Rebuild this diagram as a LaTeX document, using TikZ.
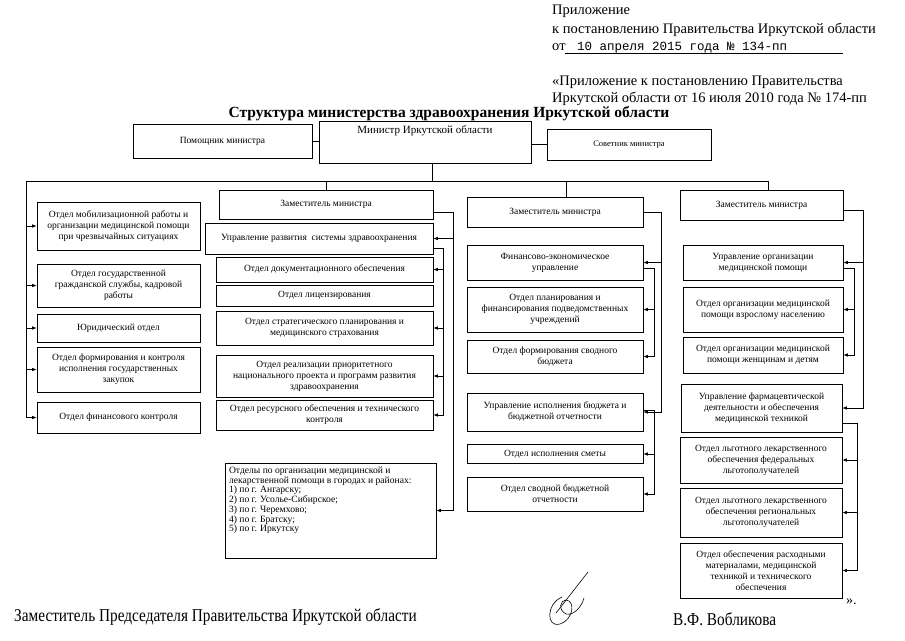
\documentclass[tikz,border=0pt]{standalone}
\usepackage{fontspec}
\setmainfont{Liberation Serif}
\newfontfamily\monofont{Liberation Mono}
\newfontfamily\condfont[FakeStretch=0.85]{Liberation Serif}
\usetikzlibrary{arrows.meta}
\tikzset{
  unitbox/.style={draw, line width=0.6pt, align=center, inner sep=2pt, font=\fontsize{9.5}{11}\selectfont},
  link/.style={line width=0.6pt},
  feed/.style={link, -{Latex[length=4.5pt,width=3.5pt]}},
  plain/.style={inner sep=0pt, anchor=base west, font=\fontsize{14.5}{17}\selectfont}
}
\begin{document}
\begin{tikzpicture}[x=1pt,y=-1pt]
\useasboundingbox (0,0) rectangle (905,640);
\node[plain] (appx) at (552,14) {Приложение};
\node[plain] (decree) at (552,33) {к постановлению Правительства Иркутской области};
\node[plain] (from) at (552,50) {от};
\node[plain, font=\monofont\fontsize{12.5}{15}\selectfont] (date) at (577,50) {10 апреля 2015 года № 134-пп};
\draw[line width=0.5pt] (565,53) -- (843,53);
\node[plain] (prevA) at (552,85) {«Приложение к постановлению Правительства};
\node[plain] (prevB) at (552,102) {Иркутской области от 16 июля 2010 года № 174-пп};
\node[plain, anchor=base, font=\bfseries\fontsize{15.5}{18}\selectfont] (title) at (449,117) {Структура министерства здравоохранения Иркутской области};

\node[unitbox, minimum width=179pt, minimum height=34pt] (pom) at (222.5,141) {Помощник министра};
\node[unitbox, minimum width=212pt, minimum height=42pt, text depth=24pt, font=\fontsize{11}{13}\selectfont] (min) at (425,142) {Министр Иркутской области};
\node[unitbox, minimum width=164pt, minimum height=31pt, font=\fontsize{8.5}{10}\selectfont] (sov) at (629,144.5) {Советник министра};

\node[unitbox, minimum width=214pt, minimum height=29pt] (zamA) at (326,204.5) {Заместитель министра};
\node[unitbox, minimum width=176pt, minimum height=30pt] (zamB) at (555,212) {Заместитель министра};
\node[unitbox, minimum width=163pt, minimum height=30pt] (zamC) at (761.5,205) {Заместитель министра};

\node[unitbox, minimum width=163pt, minimum height=48pt] (lA) at (118.5,226) {Отдел мобилизационной работы и\\организации медицинской помощи\\при чрезвычайных ситуациях};
\node[unitbox, minimum width=163pt, minimum height=43pt] (lB) at (118.5,285.5) {Отдел государственной\\гражданской службы, кадровой\\работы};
\node[unitbox, minimum width=163pt, minimum height=28pt] (lC) at (118.5,328) {Юридический отдел};
\node[unitbox, minimum width=163pt, minimum height=45pt] (lD) at (118.5,369.5) {Отдел формирования и контроля\\исполнения государственных\\закупок};
\node[unitbox, minimum width=163pt, minimum height=31pt] (lE) at (118.5,417.5) {Отдел финансового контроля};

\node[unitbox, minimum width=228pt, minimum height=31pt] (uprA) at (319,238.5) {Управление развития\ \ системы здравоохранения};
\node[unitbox, minimum width=217pt, minimum height=25pt] (dA1) at (324.5,269.5) {Отдел документационного обеспечения};
\node[unitbox, minimum width=217pt, minimum height=21pt] (dA2) at (324.5,295.5) {Отдел лицензирования};
\node[unitbox, minimum width=217pt, minimum height=34pt] (dA3) at (324.5,328) {Отдел стратегического планирования и\\медицинского страхования};
\node[unitbox, minimum width=217pt, minimum height=42pt] (dA4) at (324.5,376) {Отдел реализации приоритетного\\национального проекта и программ развития\\здравоохранения};
\node[unitbox, minimum width=217pt, minimum height=30pt] (dA5) at (324.5,415) {Отдел ресурсного обеспечения и технического\\контроля};
\node[unitbox, inner sep=4pt, align=left, font=\fontsize{9.6}{8.6}\selectfont] (otd) at (330.5,510.5) {\parbox[t][87pt][t]{203pt}{Отделы по организации медицинской и\\лекарственной помощи в городах и районах:\\1) по г. Ангарску;\\2) по г. Усолье-Сибирское;\\3) по г. Черемхово;\\4) по г. Братску;\\5) по г. Иркутску}};

\node[unitbox, minimum width=176pt, minimum height=35pt] (fB1) at (555,262.5) {Финансово-экономическое\\управление};
\node[unitbox, minimum width=176pt, minimum height=45pt] (fB2) at (555,309.5) {Отдел планирования и\\финансирования подведомственных\\учреждений};
\node[unitbox, minimum width=176pt, minimum height=33pt] (fB3) at (555,356.5) {Отдел формирования сводного\\бюджета};
\node[unitbox, minimum width=176pt, minimum height=38pt] (fB4) at (555,412) {Управление исполнения бюджета и\\бюджетной отчетности};
\node[unitbox, minimum width=176pt, minimum height=19pt] (fB5) at (555,454) {Отдел исполнения сметы};
\node[unitbox, minimum width=176pt, minimum height=34pt] (fB6) at (555,494) {Отдел сводной бюджетной\\отчетности};

\node[unitbox, minimum width=160pt, minimum height=35pt] (mC1) at (763,262.5) {Управление организации\\медицинской помощи};
\node[unitbox, minimum width=160pt, minimum height=45pt] (mC2) at (763,309.5) {Отдел организации медицинской\\помощи взрослому населению};
\node[unitbox, minimum width=160pt, minimum height=36pt] (mC3) at (763,355) {Отдел организации медицинской\\помощи женщинам и детям};
\node[unitbox, minimum width=161pt, minimum height=48pt] (mC4) at (761.5,408) {Управление фармацевтической\\деятельности и обеспечения\\медицинской техникой};
\node[unitbox, minimum width=162pt, minimum height=46pt] (mC5) at (761,460) {Отдел льготного лекарственного\\обеспечения федеральных\\льготополучателей};
\node[unitbox, minimum width=162pt, minimum height=49pt] (mC6) at (761,512.5) {Отдел льготного лекарственного\\обеспечения региональных\\льготополучателей};
\node[unitbox, minimum width=162pt, minimum height=55pt] (mC7) at (761,570.5) {Отдел обеспечения расходными\\материалами, медицинской\\техникой и технического\\обеспечения};

\draw[link] (pom.east) -- (pom.east -| min.west);
\draw[link] (sov.west -| min.east) -- (sov.west);
\coordinate (busL) at (26,181);
\coordinate (busR) at (768,181);
\draw[link] ([xshift=7pt]min.south) -- ([xshift=7pt]min.south |- busL);
\draw[link] (busL) -- (busR) -- ([xshift=6.5pt]zamC.north);
\draw[link] (zamA.north |- busL) -- (zamA.north);
\draw[link] ([xshift=11pt]zamB.north |- busL) -- ([xshift=11pt]zamB.north);
\foreach \n in {lA,lB,lC,lD,lE} \draw[feed] (busL) |- (\n.west);
\foreach \n in {uprA,otd} \draw[feed] ([yshift=-7.5pt]zamA.east) -- ++(20,0) |- (\n.east);
\foreach \n in {dA1,dA3,dA4,dA5} \draw[feed] ([yshift=-10pt]uprA.east) -- ++(10,0) |- (\n.east);
\foreach \n in {fB1,fB4} \draw[feed] (zamB.east) -- ++(18,0) |- (\n.east);
\foreach \n in {fB2,fB3} \draw[feed] ([yshift=-5.5pt]fB1.east) -- ++(11,0) |- (\n.east);
\foreach \n in {fB5,fB6} \draw[feed] ([yshift=2pt]fB4.east) -- ++(11,0) |- (\n.east);
\foreach \n in {mC1,mC4} \draw[feed] ([yshift=-5pt]zamC.east) -- ++(20,0) |- (\n.east);
\foreach \n in {mC2,mC3} \draw[feed] ([yshift=-5.5pt]mC1.east) -- ++(11,0) |- (\n.east);
\foreach \n in {mC5,mC6,mC7} \draw[feed] ([yshift=-15pt]mC4.east) -- ++(15,0) |- (\n.east);

\node[plain, font=\condfont\fontsize{18}{20}\selectfont] (deputy) at (14,621) {Заместитель Председателя Правительства Иркутской области};
\node[plain, font=\condfont\fontsize{18}{20}\selectfont] (signer) at (673,625) {В.Ф. Вобликова};
\node[plain, font=\fontsize{14}{16}\selectfont] (close) at (846,604) {».};
\draw[line width=0.6pt] (588,572) -- (556,613);
\draw[line width=0.6pt] (562,597) .. controls (546,604) and (546,628) .. (560,624) .. controls (573,620) and (576,601) .. (566,600) .. controls (560,600) and (558,610) .. (566,614) .. controls (574,616) and (582,606) .. (584,598);
\end{tikzpicture}
\end{document}
